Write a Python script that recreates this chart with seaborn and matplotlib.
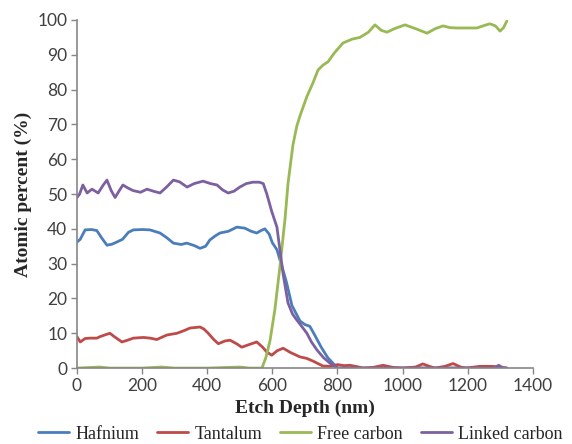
import pandas as pd
import seaborn as sns
import matplotlib.pyplot as plt

# depth profiles (nm, atomic %)
hf_depth = [0, 10, 25, 45, 61, 75, 92, 108, 122, 140, 158, 173, 200, 224, 255, 275, 296, 320, 337, 360,
            378, 395, 408, 425, 439, 465, 491, 515, 535, 552, 565, 577, 590, 600, 614, 630, 644, 660, 685,
            700, 715, 730, 750, 770, 790, 800, 900, 1000, 1100, 1200, 1320]
hf_pct = [36.2, 37, 39.7, 39.8, 39.5, 37.5, 35.3, 35.6, 36.2, 37, 39, 39.7, 39.8, 39.7, 38.8, 37.5, 35.9, 35.5, 35.9, 35.2,
          34.4, 35.0, 36.8, 38.0, 38.8, 39.3, 40.5, 40.2, 39.3, 38.8, 39.5, 40, 38.5, 36, 34, 29, 24.4, 18, 13.5,
          12.5, 12, 9.5, 6, 3, 1, 0, 0, 0, 0, 0, 0]

ta_depth = [0, 10, 25, 40, 61, 70, 85, 101, 115, 138, 155, 173, 204, 225, 245, 276, 307, 330, 347, 378,
            390, 403, 420, 434, 455, 470, 490, 506, 530, 552, 570, 583, 598, 615, 633, 655, 685, 705, 725,
            755, 780, 800, 820, 838, 860, 878, 910, 940, 970, 1000, 1040, 1062, 1085, 1100, 1130, 1155,
            1178, 1195, 1237, 1277, 1300, 1320]
ta_pct = [9, 7.5, 8.5, 8.6, 8.6, 9, 9.5, 10, 9, 7.5, 8, 8.6, 8.8, 8.6, 8.2, 9.5, 10, 10.8, 11.5, 11.8,
          11.2, 10, 8.2, 7, 7.8, 8, 7, 6, 6.8, 7.5, 6, 4.6, 3.7, 5, 5.7, 4.5, 3.2, 2.8, 2,
          0.6, 0.5, 1, 0.7, 0.8, 0.4, 0, 0.2, 0.8, 0.2, 0, 0.3, 1.2, 0.4, 0, 0.5, 1.3,
          0.3, 0, 0.5, 0.5, 0.2, 0]

fc_depth = [0, 70, 100, 200, 260, 300, 400, 500, 530, 550, 568, 580, 593, 608, 623, 639, 648, 663, 675, 685,
            706, 725, 740, 755, 771, 790, 817, 845, 869, 895, 915, 935, 952, 975, 1007, 1040, 1075, 1100,
            1124, 1145, 1167, 1200, 1228, 1250, 1268, 1285, 1299, 1310, 1320]
fc_pct = [0, 0.3, 0, 0, 0.3, 0, 0, 0.3, 0, 0, 0, 3, 8, 17, 29, 43, 53, 64, 69.5, 72.5,
          78, 82, 85.6, 87, 88, 90.5, 93.4, 94.5, 95, 96.5, 98.6, 97, 96.5, 97.5, 98.6, 97.5, 96.2, 97.5,
          98.3, 97.8, 97.7, 97.7, 97.7, 98.4, 98.9, 98.3, 96.8, 97.8, 99.7]

lc_depth = [0, 8, 18, 31, 46, 65, 80, 92, 105, 117, 130, 141, 155, 172, 195, 215, 235, 255, 275, 296,
            315, 338, 360, 387, 410, 430, 447, 464, 482, 500, 520, 540, 560, 572, 583, 598, 614, 633, 648,
            662, 675, 690, 706, 720, 737, 757, 777, 800, 900, 1000, 1100, 1200, 1280, 1295, 1310, 1320]
lc_pct = [49, 50, 52.6, 50.3, 51.4, 50.3, 52.5, 54, 51, 49, 51, 52.6, 51.8, 51, 50.5, 51.4, 50.8, 50.3, 52, 54,
          53.5, 52, 53, 53.7, 53, 52.6, 51.2, 50.3, 50.8, 52, 53, 53.4, 53.4, 53, 50, 45, 40.5, 27, 18.7,
          15.5, 13.8, 12, 10, 7.5, 5.2, 3, 1.4, 0, 0, 0, 0, 0, 0, 0.8, 0, 0]

series = ["Hafnium", "Tantalum", "Free carbon", "Linked carbon"]
colors = ["#4A7EBB", "#BE4B48", "#98B954", "#7D60A0"]

frames = []
for name, d, p in zip(series, [hf_depth, ta_depth, fc_depth, lc_depth], [hf_pct, ta_pct, fc_pct, lc_pct]):
    frames.append(pd.DataFrame({"depth": d, "pct": p, "element": name}))
df = pd.concat(frames, ignore_index=True)

sns.set_style("white")
fig = plt.figure(figsize=(5.72, 4.44), dpi=100)
ax = fig.add_axes([0.1346, 0.171, 0.797, 0.784])

sns.lineplot(data=df, x="depth", y="pct", hue="element", hue_order=series,
             palette=colors, sort=False, linewidth=2, ax=ax)

ax.set_xlim(0, 1400)
ax.set_ylim(0, 100)
ax.set_xticks(range(0, 1401, 200))
ax.set_yticks(range(0, 101, 10))
sns.despine(ax=ax)
for s in ["left", "bottom"]:
    ax.spines[s].set_color("#868686")
    ax.spines[s].set_linewidth(1.2)
ax.tick_params(axis="both", length=4, width=1, color="#868686", labelsize=12.5,
               labelcolor="#404040", direction="out", left=True, bottom=True, pad=3)
for lab in ax.get_xticklabels() + ax.get_yticklabels():
    lab.set_family("Lato")

ax.set_xlabel("Etch Depth (nm)", family="Liberation Serif", fontweight="bold", fontsize=14, labelpad=4)
ax.set_ylabel("Atomic percent (%)", family="Liberation Serif", fontweight="bold", fontsize=14, labelpad=4)

sns.move_legend(ax, "center", bbox_to_anchor=(0.49, -0.19), ncol=4, frameon=False,
                title=None, prop={"family": "Liberation Serif", "size": 13},
                handlelength=1.7, columnspacing=1.0, handletextpad=0.35, borderpad=0.1)

fig.savefig("out.png", dpi=100)
